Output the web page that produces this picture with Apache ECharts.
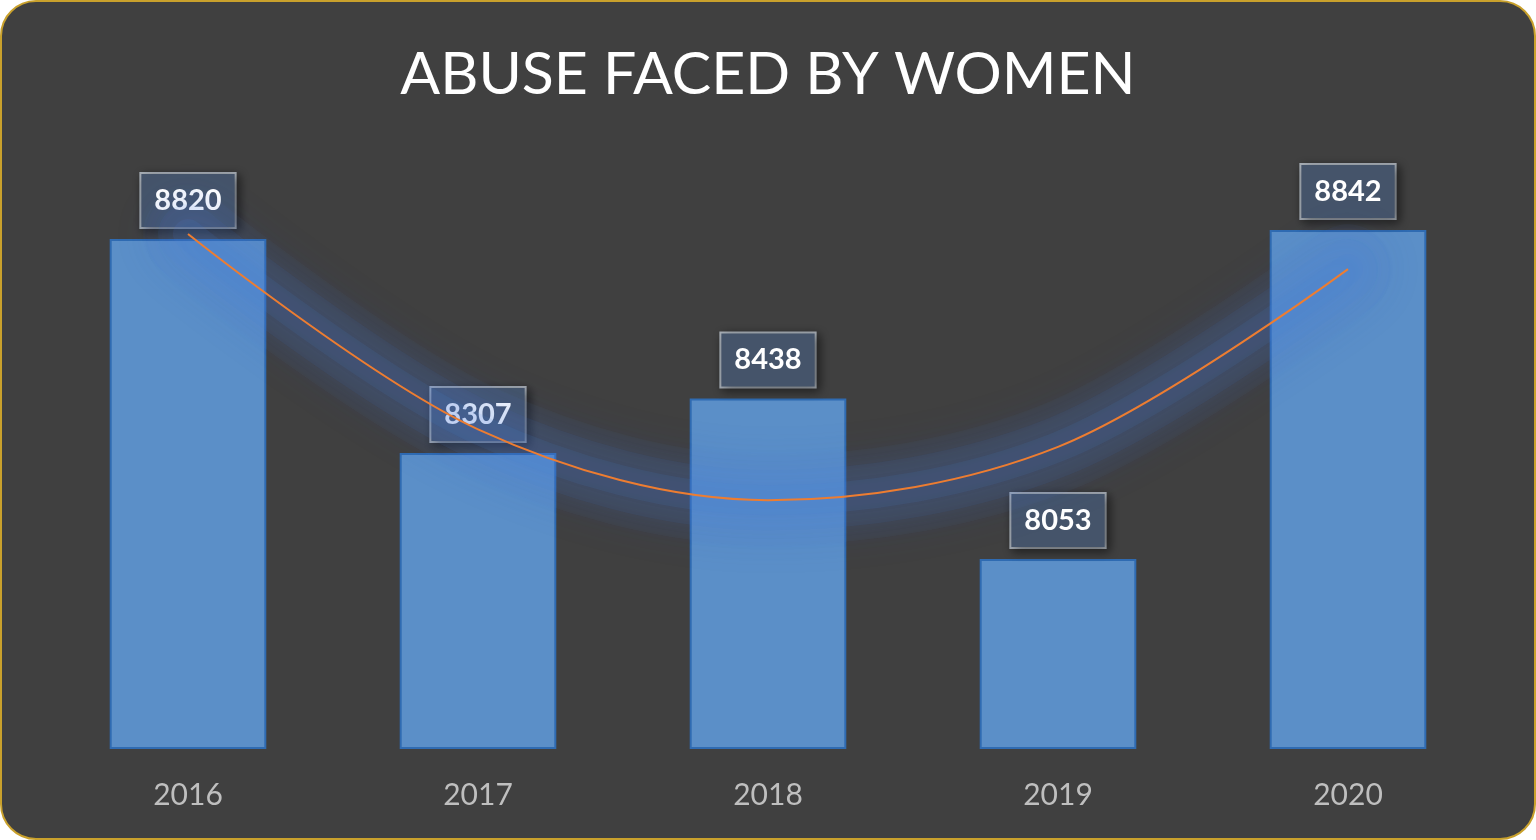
<!DOCTYPE html>
<html lang="en">
<head>
<meta charset="utf-8" />
<script src="https://cdn.jsdelivr.net/npm/echarts@6/dist/echarts.min.js"></script>
<title>Abuse faced by women</title>
<style>
  html,body{margin:0;padding:0;background:#fff;}
  #frame{
    width:1536px;height:840px;box-sizing:border-box;
    border:2px solid #c9a12c;border-radius:36px;
    background:#404040;overflow:hidden;
  }
  #chart{width:100%;height:100%;}
</style>
</head>
<body>
<div id="frame"><div id="chart"></div></div>
<script>
  // data
  var years = ['2016', '2017', '2018', '2019', '2020'];
  var cases = [8820, 8307, 8438, 8053, 8842];
  // polynomial trend line, values read at each year
  var trend = [8832, 8364, 8194, 8322, 8748];

  // soft blue glow around the trend line, built as a few wide translucent strokes
  var glowLayers = [
    { width: 90, alpha: 0.05 },
    { width: 60, alpha: 0.07 },
    { width: 30, alpha: 0.11 }
  ];

  var myChart = echarts.init(document.getElementById('chart'));

  var series = [
    {
      type: 'bar',
      data: cases,
      barWidth: '54%',
      z: 2,
      itemStyle: { color: '#5b8fc8', borderColor: '#2f6bb2', borderWidth: 2 },
      label: {
        show: true,
        position: 'top',
        distance: 12,
        color: '#ffffff',
        fontSize: 29,
        fontWeight: 'bold',
        fontFamily: 'Lato',
        lineHeight: 37,
        padding: [8, 13],
        backgroundColor: '#45546a',
        borderColor: '#a9b0b8',
        borderWidth: 2,
        shadowColor: 'rgba(0,0,0,0.45)',
        shadowBlur: 10,
        shadowOffsetX: 3,
        shadowOffsetY: 3
      }
    }
  ];
  glowLayers.forEach(function (g) {
    series.push({
      type: 'line',
      data: trend,
      smooth: 0.333,
      symbol: 'none',
      silent: true,
      z: 3,
      lineStyle: {
        width: g.width,
        cap: 'round',
        color: 'rgba(72,126,222,' + g.alpha + ')',
        shadowBlur: 40,
        shadowColor: 'rgba(72,126,222,1)'
      }
    });
  });
  series.push({
    type: 'line',
    data: trend,
    smooth: 0.333,
    symbol: 'none',
    z: 4,
    lineStyle: { width: 2, color: '#ed7d31' }
  });

  var option = {
    backgroundColor: 'transparent',
    title: {
      text: 'ABUSE FACED BY WOMEN',
      left: 'center',
      top: 38,
      textStyle: { color: '#ffffff', fontSize: 59, fontWeight: 'normal', fontFamily: 'Lato' }
    },
    grid: { left: 41, right: 41, top: 162, bottom: 90 },
    xAxis: {
      type: 'category',
      data: years,
      axisLine: { show: false },
      axisTick: { show: false },
      axisLabel: { color: '#bfbfbf', fontSize: 30, fontFamily: 'Lato', margin: 32 }
    },
    yAxis: {
      type: 'value',
      min: 7600,
      max: 9000,
      show: false
    },
    series: series
  };
  myChart.setOption(option);
</script>
</body>
</html>
